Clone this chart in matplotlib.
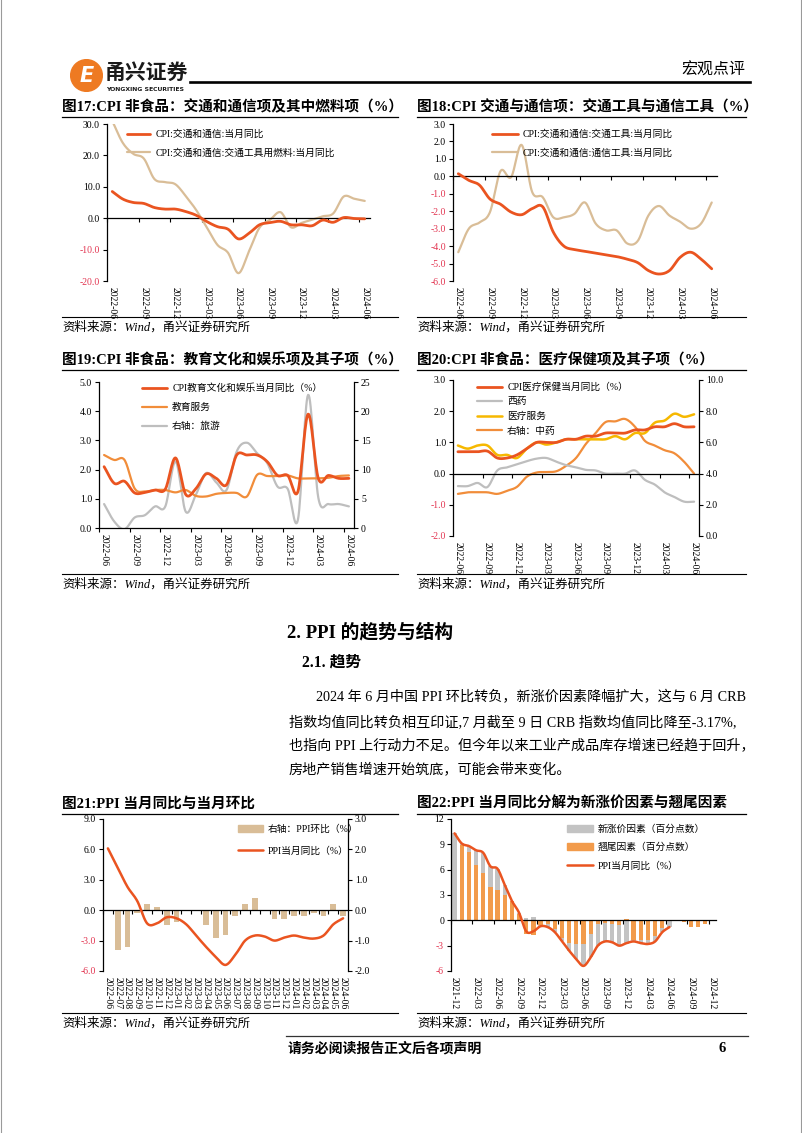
import numpy as np
import pandas as pd
import matplotlib
matplotlib.use("Agg")
import matplotlib.pyplot as plt
from matplotlib.lines import Line2D
from matplotlib.patches import Patch, Circle

plt.rcParams['font.family'] = ['Liberation Serif', 'Noto Sans CJK SC']
plt.rcParams['axes.unicode_minus'] = False

# ---------------- data ----------------
months25 = [p.strftime('%Y-%m') for p in pd.period_range('2022-06', '2024-06', freq='M')]
months37 = [p.strftime('%Y-%m') for p in pd.period_range('2021-12', '2024-12', freq='M')]

# Fig 17
c17_transport = [8.5, 6.1, 5.0, 4.7, 3.4, 2.9, 2.9, 2.1, 0.9, -1.1, -2.7, -3.5, -6.6, -4.8,
                 -2.1, -1.4, -1.0, -2.1, -2.1, -2.4, -0.6, -1.3, 0.2, -0.1, -0.2]
c17_fuel = [31.0, 24.0, 20.5, 19.0, 12.5, 11.5, 10.8, 7.0, 2.5, -3.0, -8.5, -11.0, -17.5, -10.5,
            -3.0, -0.5, 1.9, -2.9, -1.5, -0.5, 0.6, 1.5, 6.9, 6.2, 5.5]
# Fig 18
c18_vehicles = [0.15, -0.23, -0.5, -1.3, -1.6, -2.05, -2.2, -1.85, -1.75, -3.2, -4.0, -4.2, -4.3,
                -4.4, -4.5, -4.6, -4.75, -4.95, -5.4, -5.6, -5.4, -4.65, -4.35, -4.75, -5.3]
c18_comm = [-4.35, -3.0, -2.65, -2.05, 0.3, -0.05, 1.8, -0.9, -1.2, -2.35, -2.35, -2.15, -1.5,
            -2.7, -3.1, -3.1, -3.85, -3.7, -2.25, -1.7, -2.25, -2.6, -3.0, -2.7, -1.5]
# Fig 19
c19_edu_culture = [2.1, 1.53, 1.6, 1.2, 1.22, 1.3, 1.33, 2.4, 1.15, 1.35, 1.85, 1.7, 1.48, 2.5,
                   2.5, 2.5, 2.27, 1.8, 1.8, 1.25, 3.9, 1.7, 1.8, 1.7, 1.7]
c19_edu_service = [2.5, 2.33, 2.33, 1.35, 1.25, 1.3, 1.3, 1.22, 1.3, 1.1, 1.08, 1.17, 1.2, 1.2,
                   1.08, 1.82, 1.78, 1.78, 1.8, 1.7, 1.7, 1.7, 1.72, 1.78, 1.8]
c19_travel = [4.1, 1.1, -0.2, 1.8, 2.2, 3.7, 3.7, 11.4, 2.8, 5.7, 9.4, 7.8, 6.5, 13.1, 14.6,
              12.8, 11.1, 7.1, 6.7, 1.4, 22.8, 5.2, 4.1, 4.1, 3.7]
# Fig 20
c20_health = [0.7, 0.7, 0.7, 0.72, 0.5, 0.5, 0.6, 0.8, 1.0, 1.0, 1.0, 1.1, 1.1, 1.2, 1.2, 1.3,
              1.3, 1.3, 1.4, 1.4, 1.5, 1.5, 1.6, 1.5, 1.5]
c20_western = [-0.4, -0.4, -0.3, -0.43, 0.1, 0.2, 0.3, 0.4, 0.48, 0.5, 0.38, 0.27, 0.2, 0.12,
               0.1, 0.0, 0.0, 0.0, 0.1, -0.2, -0.35, -0.6, -0.75, -0.9, -0.9]
c20_service = [0.9, 0.8, 0.9, 0.9, 0.6, 0.6, 0.5, 0.8, 1.0, 0.93, 1.0, 1.1, 1.1, 1.1, 1.1, 1.1,
               1.2, 1.1, 1.3, 1.3, 1.63, 1.7, 1.92, 1.82, 1.9]
c20_chinese = [2.7, 2.8, 2.8, 2.8, 2.7, 2.9, 3.15, 3.8, 4.07, 4.1, 4.15, 4.5, 5.0, 5.9, 6.6, 7.3,
               7.35, 7.5, 7.0, 6.1, 5.8, 5.5, 5.3, 4.75, 4.0]
# Fig 21
c21_ppi_yoy = [6.1, 4.2, 2.3, 0.9, -1.3, -1.3, -0.7, -0.8, -1.4, -2.5, -3.6, -4.6, -5.4, -4.4,
               -3.0, -2.5, -2.6, -3.0, -2.7, -2.5, -2.7, -2.8, -2.5, -1.4, -0.8]
c21_ppi_mom = [0.0, -1.3, -1.2, -0.1, 0.2, 0.1, -0.5, -0.4, 0.0, 0.0, -0.5, -0.9, -0.8, -0.2,
               0.2, 0.4, 0.0, -0.3, -0.3, -0.2, -0.2, -0.1, -0.2, 0.2, -0.2]
# Fig 22
c22_ppi = [10.3, 9.1, 8.8, 8.3, 8.0, 6.4, 6.1, 4.2, 2.3, 0.9, -1.3, -1.3, -0.7, -0.8, -1.4, -2.5,
           -3.6, -4.6, -5.4, -4.4, -3.0, -2.5, -2.6, -3.0, -2.7, -2.5, -2.7, -2.8, -2.5, -1.4, -0.8]
c22_new = [10.3, 0.2, 0.7, 1.8, 2.4, 2.5, 2.5, 1.2, 0.0, 0.1, 0.3, 0.4, -0.1, -0.4, -0.4, -0.4,
           -0.9, -1.8, -2.6, -2.8, -2.6, -2.2, -2.2, -2.5, -2.8, -0.2, -0.4, -0.5, -0.7, -0.5,
           -0.7, 0, 0, 0, 0, 0, 0]
c22_carry = [0.0, 8.9, 8.1, 6.5, 5.6, 3.9, 3.6, 3.0, 2.3, 0.8, -1.6, -1.7, -0.6, -0.4, -1.0, -2.1,
             -2.7, -2.8, -2.8, -1.6, -0.4, -0.3, -0.4, -0.5, 0.1, -2.3, -2.3, -2.3, -1.8, -0.9,
             -0.1, -0.05, -0.2, -0.75, -0.8, -0.45, 0.05]

# ---------------- styles ----------------
W, H = 802, 1133
NEG = '#E23450'
RED = '#EA5420'
TAN = '#D9BD97'
ORANGE = '#F18D3A'
GRAY = '#BEBEBE'
YELLOW = '#F6B800'
SERIF = ['Liberation Serif', 'Noto Sans CJK SC']
CJK = ['Noto Sans CJK SC', 'DejaVu Sans']

fig = plt.figure(figsize=(W / 100, H / 100), dpi=100)


def fx(x):
    return x / W


def fy(y):
    return 1 - y / H


def add_ax(x0, y0, x1, y1):
    return fig.add_axes([x0 / W, 1 - y1 / H, (x1 - x0) / W, (y1 - y0) / H])


def hline(x0, x1, y, lw=0.8, color='black'):
    fig.add_artist(Line2D([fx(x0), fx(x1)], [fy(y), fy(y)], color=color, lw=lw))


def smooth(y, n=16):
    y = np.asarray(y, float)
    x = np.arange(len(y))
    p = np.concatenate([[2 * y[0] - y[1]], y, [2 * y[-1] - y[-2]]])
    t = np.linspace(0, 1, n, endpoint=False)
    xs, ys = [], []
    for i in range(len(y) - 1):
        p0, p1, p2, p3 = p[i], p[i + 1], p[i + 2], p[i + 3]
        seg = 0.5 * (2 * p1 + (-p0 + p2) * t + (2 * p0 - 5 * p1 + 4 * p2 - p3) * t ** 2
                     + (-p0 + 3 * p1 - 3 * p2 + p3) * t ** 3)
        xs.append(x[i] + t)
        ys.append(seg)
    xs.append([x[-1]])
    ys.append([y[-1]])
    return np.concatenate(xs), np.concatenate(ys)


def yaxis_fmt(ax, ylim, step, fmt, neg_red=True, side='left'):
    ax.set_ylim(*ylim)
    yt = np.arange(ylim[0], ylim[1] + step * 0.01, step)
    ax.set_yticks(yt)
    ax.set_yticklabels([fmt.format(v) for v in yt])
    for lab, v in zip(ax.get_yticklabels(), yt):
        lab.set_color(NEG if (neg_red and v < -1e-9) else 'black')
    ax.tick_params(axis='y', direction='out', length=3, width=0.8, pad=2, labelsize=7)
    ax.spines[side].set_linewidth(0.9)


def base_axes(ax, labels, step, ylim, ystep, fmt, tick_step=None):
    n = len(labels)
    ax.set_xlim(-0.5, n - 0.5)
    yaxis_fmt(ax, ylim, ystep, fmt)
    ts = tick_step or step
    ax.set_xticks(np.arange(0, n, ts) - 0.5)
    ax.tick_params(axis='x', direction='out', length=3, width=0.8, labelbottom=False)
    ax.spines['bottom'].set_position(('data', 0))
    ax.spines['bottom'].set_linewidth(0.9)
    ax.spines['top'].set_visible(False)
    ax.spines['right'].set_visible(False)
    ax.patch.set_visible(False)
    idx = list(range(0, n, step))
    sec = ax.secondary_xaxis('bottom')
    sec.set_xticks(idx)
    sec.set_xticklabels([labels[i] for i in idx], rotation=270)
    sec.tick_params(axis='x', length=0, pad=4, labelsize=7)
    sec.spines['bottom'].set_visible(False)
    return sec


def twin_axes(ax, ylim, step, fmt, neg_red=False):
    tw = ax.twinx()
    yaxis_fmt(tw, ylim, step, fmt, neg_red=neg_red, side='right')
    for s in ['left', 'top', 'bottom']:
        tw.spines[s].set_visible(False)
    ax.set_zorder(tw.get_zorder() + 1)
    ax.patch.set_visible(False)
    return tw


def put_legend(ax, handles, labels, x, y, spacing=0.45, hl=2.4, fs=7):
    ax.legend(handles, labels, loc='upper left', bbox_to_anchor=(fx(x), fy(y)),
              bbox_transform=fig.transFigure, frameon=False, fontsize=fs, borderpad=0,
              borderaxespad=0, handlelength=hl, handletextpad=0.5, labelspacing=spacing)


def title(x, y, s, x_end):
    fig.text(fx(x), fy(y), s, ha='left', va='center', fontsize=10.5, fontweight='bold',
             family=SERIF)
    hline(x, x_end, y + 10, lw=0.9)


def source(x, y, x_end):
    hline(x, x_end, y - 10, lw=0.8)
    fig.text(fx(x), fy(y), '资料来源：Wind，甬兴证券研究所', ha='left', va='center',
             fontsize=9, style='italic', family=SERIF)


def sline(ax, y, color, lw, **kw):
    xs, ys = smooth(y)
    return ax.plot(xs, ys, color=color, lw=lw, solid_capstyle='round', **kw)[0]


# ---------------- page decoration ----------------
fig.add_artist(Line2D([fx(1), fx(1)], [0, 1], color='#9a9a9a', lw=0.8))
fig.add_artist(Line2D([fx(800.5), fx(800.5)], [0, 1], color='#9a9a9a', lw=0.8))

logo = add_ax(70, 59, 103, 92)
logo.set_xlim(0, 1)
logo.set_ylim(0, 1)
logo.set_aspect('equal')
logo.axis('off')
logo.add_patch(Circle((0.5, 0.5), 0.48, color='#EE7A22'))
logo.text(0.5, 0.47, 'E', color='white', fontsize=15, fontweight='bold', style='italic',
          ha='center', va='center', family=['DejaVu Sans'])
fig.text(fx(105), fy(72), '甬兴证券', ha='left', va='center', fontsize=15,
         fontweight='bold', family=CJK, color='#1a1a1a')
fig.text(fx(106), fy(89.5), 'YONGXING SECURITIES', ha='left', va='center', fontsize=4.4,
         fontweight='bold', family=['DejaVu Sans'], color='#1a1a1a')
hline(190, 750, 82, lw=1.9)
fig.text(fx(745), fy(70), '宏观点评', ha='right', va='center', fontsize=11.5, family=CJK)

# ---------------- Fig 17 ----------------
title(62, 107, '图17:CPI 非食品：交通和通信项及其中燃料项（%）', 398)
ax = add_ax(107, 124, 370, 281)
base_axes(ax, months25, 3, (-20, 30), 10, '{:.1f}')
h1 = sline(ax, c17_transport, RED, 2.0, zorder=3)
h2 = sline(ax, c17_fuel, TAN, 1.6, zorder=2)
put_legend(ax, [h1, h2], ['CPI:交通和通信:当月同比', 'CPI:交通和通信:交通工具用燃料:当月同比'],
           127, 129.5, spacing=0.95, hl=2.4)
source(62, 327, 398)

# ---------------- Fig 18 ----------------
title(417, 107, '图18:CPI 交通与通信项：交通工具与通信工具（%）', 746)
ax = add_ax(453, 124, 717, 281)
base_axes(ax, months25, 3, (-6, 3), 1, '{:.1f}')
h1 = sline(ax, c18_vehicles, RED, 2.0, zorder=3)
h2 = sline(ax, c18_comm, TAN, 1.6, zorder=2)
put_legend(ax, [h1, h2], ['CPI:交通和通信:交通工具:当月同比', 'CPI:交通和通信:通信工具:当月同比'],
           492, 129.5, spacing=0.95, hl=2.7)
source(417, 327, 746)

# ---------------- Fig 19 ----------------
title(62, 360, '图19:CPI 非食品：教育文化和娱乐项及其子项（%）', 398)
ax = add_ax(99, 382, 354, 528)
base_axes(ax, months25, 3, (0, 5), 1, '{:.1f}')
tw = twin_axes(ax, (0, 25), 5, '{:.0f}')
h3 = sline(tw, c19_travel, GRAY, 1.6)
h2 = sline(ax, c19_edu_service, ORANGE, 1.6, zorder=2)
h1 = sline(ax, c19_edu_culture, RED, 2.0, zorder=3)
put_legend(ax, [h1, h2, h3], ['CPI教育文化和娱乐当月同比（%）', '教育服务', '右轴：旅游'],
           142, 383.5, spacing=1.0, hl=2.6)
source(62, 584, 398)

# ---------------- Fig 20 ----------------
title(417, 360, '图20:CPI 非食品：医疗保健项及其子项（%）', 746)
ax = add_ax(453, 380, 699, 536)
base_axes(ax, months25, 3, (-2, 3), 1, '{:.1f}')
tw = twin_axes(ax, (0, 10), 2, '{:.1f}')
h4 = sline(tw, c20_chinese, ORANGE, 1.6)
h2 = sline(ax, c20_western, GRAY, 1.6, zorder=2)
h3 = sline(ax, c20_service, YELLOW, 1.8, zorder=3)
h1 = sline(ax, c20_health, RED, 2.0, zorder=4)
put_legend(ax, [h1, h2, h3, h4], ['CPI医疗保健当月同比（%）', '西药', '医疗服务', '右轴：中药'],
           477, 382.5, spacing=0.55, hl=2.6)
source(417, 584, 746)

# ---------------- Section text ----------------
fig.text(fx(287), fy(632), '2. PPI 的趋势与结构', ha='left', va='center', fontsize=13.5,
         fontweight='bold', family=SERIF)
fig.text(fx(302), fy(663), '2.1. 趋势', ha='left', va='center', fontsize=11.3,
         fontweight='bold', family=SERIF)
body = [
    (316, 697, '2024 年 6 月中国 PPI 环比转负，新涨价因素降幅扩大，这与 6 月 CRB'),
    (289, 722, '指数均值同比转负相互印证,7 月截至 9 日 CRB 指数均值同比降至-3.17%,'),
    (289, 746, '也指向 PPI 上行动力不足。但今年以来工业产成品库存增速已经趋于回升，'),
    (289, 770, '房地产销售增速开始筑底，可能会带来变化。'),
]
for bx, by, s in body:
    fig.text(fx(bx), fy(by), s, ha='left', va='center', fontsize=10.15, family=SERIF)

# ---------------- Fig 21 ----------------
title(62, 804, '图21:PPI 当月同比与当月环比', 398)
ax = add_ax(103, 819, 348, 971)
base_axes(ax, months25, 1, (-6, 9), 3, '{:.1f}')
tw = twin_axes(ax, (-2, 3), 1, '{:.1f}')
x25 = np.arange(len(months25))
tw.bar(x25, c21_ppi_mom, width=0.6, color=TAN)
h1 = sline(ax, c21_ppi_yoy, RED, 1.8, zorder=3)
put_legend(ax, [Patch(color=TAN), h1], ['右轴：PPI环比（%）', 'PPI当月同比（%）'],
           238, 824.5, spacing=1.25, hl=2.6)
source(62, 1023, 398)

# ---------------- Fig 22 ----------------
title(417, 804, '图22:PPI 当月同比分解为新涨价因素与翘尾因素', 746)
ax = add_ax(451, 819, 716, 971)
base_axes(ax, months37, 3, (-6, 12), 3, '{:.0f}')
x37 = np.arange(len(months37))
carry = np.array(c22_carry)
new = np.array(c22_new)
gray_bottom = np.where(np.sign(carry) == np.sign(new), carry, 0.0)
ax.bar(x37, carry, width=0.6, color='#F29B4B', zorder=2)
ax.bar(x37, new, bottom=gray_bottom, width=0.6, color='#C3C3C3', zorder=2)
h1 = sline(ax, c22_ppi, RED, 1.8, zorder=3)
put_legend(ax, [Patch(color='#C3C3C3'), Patch(color='#F29B4B'), h1],
           ['新涨价因素（百分点数）', '翘尾因素（百分点数）', 'PPI当月同比（%）'],
           567, 824.5, spacing=0.9, hl=2.7)
source(417, 1023, 746)

# ---------------- footer ----------------
hline(286, 748, 1036, lw=0.9, color='#333333')
fig.text(fx(288), fy(1048), '请务必阅读报告正文后各项声明', ha='left', va='center',
         fontsize=10, fontweight='bold', family=CJK)
fig.text(fx(722), fy(1048), '6', ha='center', va='center', fontsize=10.5,
         fontweight='bold', family=SERIF)

fig.savefig('out.png', dpi=100)
